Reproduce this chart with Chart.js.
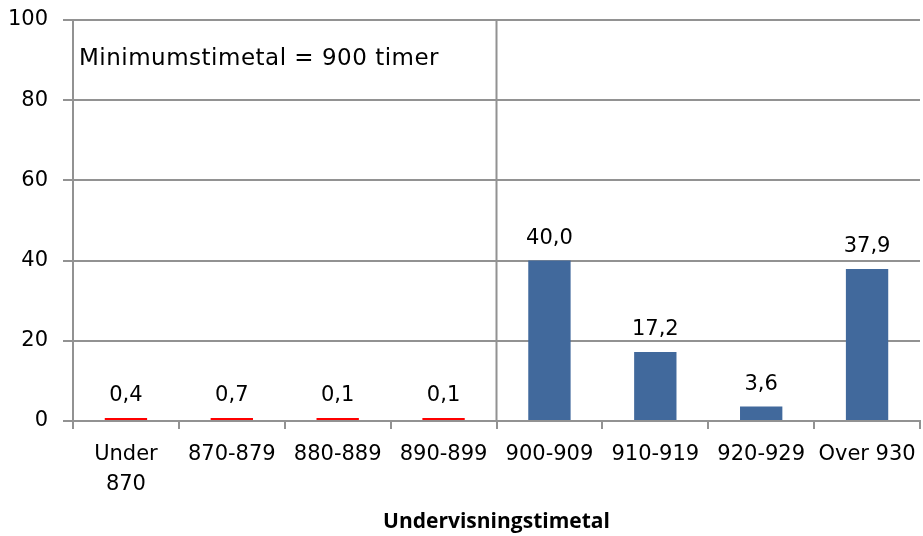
<!DOCTYPE html>
<html>
<head>
<meta charset="utf-8">
<script src="https://cdn.jsdelivr.net/npm/chart.js@4"></script>
<style>
  html, body { margin: 0; padding: 0; background: #fff; }
  #wrap { width: 923px; height: 536px; }
</style>
</head>
<body>
<div id="wrap"><canvas id="timetal"></canvas></div>
<script>
// Fordeling af skoler efter undervisningstimetal (pct.)
const kategorier = [['Under', '870'], '870-879', '880-889', '890-899', '900-909', '910-919', '920-929', 'Over 930'];
const andele = [0.4, 0.7, 0.1, 0.1, 40.0, 17.2, 3.6, 37.9];
const farver = ['#ff0000', '#ff0000', '#ff0000', '#ff0000', '#41699c', '#41699c', '#41699c', '#41699c'];
const yTicks = [0, 20, 40, 60, 80, 100];
const minimumTekst = 'Minimumstimetal = 900 timer';
const minimumIndeks = 4; // 900-909 er første kategori over minimum

const gitter = '#929292';
const skrift = "'DejaVu Sans', sans-serif";

// værdier over søjlerne, skillelinje ved 900 og tekstboks
const tegnEkstra = {
    id: 'tegnEkstra',
    afterDatasetsDraw(chart) {
        const ctx = chart.ctx;
        const area = chart.chartArea;
        const x = chart.scales.x;

        // lodret linje ved minimum
        const xLinje = (x.getPixelForValue(minimumIndeks - 1) + x.getPixelForValue(minimumIndeks)) / 2;
        ctx.save();
        ctx.strokeStyle = gitter;
        ctx.lineWidth = 2;
        ctx.beginPath();
        ctx.moveTo(xLinje, area.top);
        ctx.lineTo(xLinje, area.bottom);
        ctx.stroke();

        ctx.fillStyle = '#000';
        ctx.font = '23px ' + skrift;
        ctx.letterSpacing = '0.5px';
        ctx.textAlign = 'left';
        ctx.textBaseline = 'alphabetic';
        ctx.fillText(minimumTekst, area.left + 6, area.top + 45);

        // dataetiketter
        ctx.letterSpacing = '0px';
        ctx.font = '21px ' + skrift;
        ctx.textAlign = 'center';
        const meta = chart.getDatasetMeta(0);
        meta.data.forEach((bar, i) => {
            const tekst = andele[i].toFixed(1).replace('.', ',');
            ctx.fillText(tekst, bar.x, bar.y - 17);
        });
        ctx.restore();
    }
};

const data = {
    labels: kategorier,
    datasets: [{
        label: 'Andel',
        data: andele,
        backgroundColor: farver,
        borderWidth: 0,
        barPercentage: 0.4,
        categoryPercentage: 1.0,
        minBarLength: 3,
    }]
};

const config = {
    type: 'bar',
    data: data,
    options: {
        responsive: true,
        maintainAspectRatio: false,
        animation: false,
        layout: {
            padding: { top: 0, right: 3, left: 0, bottom: 1 }
        },
        plugins: {
            legend: { display: false },
            tooltip: { enabled: false },
        },
        scales: {
            x: {
                grid: {
                    offset: true,
                    drawOnChartArea: false,
                    drawTicks: true,
                    tickLength: 8,
                    color: gitter,
                    lineWidth: 2,
                },
                border: { color: gitter, width: 2 },
                ticks: {
                    color: '#000',
                    font: { family: skrift, size: 21, lineHeight: 1.4 },
                    padding: 11,
                    maxRotation: 0,
                    autoSkip: false,
                },
                title: {
                    display: true,
                    text: 'Undervisningstimetal',
                    color: '#000',
                    font: { family: "'Open Sans', sans-serif", size: 21, weight: 'bold' },
                    padding: { top: 10, bottom: 0 },
                },
                afterFit: (s) => {
                    s.height = 114;
                    s.paddingLeft = 0;
                    s.paddingRight = 0;
                },
            },
            y: {
                min: 0,
                max: 100,
                afterBuildTicks: (s) => { s.ticks = yTicks.map(v => ({ value: v })); },
                grid: {
                    color: gitter,
                    lineWidth: 2,
                    tickLength: 10,
                },
                border: { color: gitter, width: 2 },
                ticks: {
                    color: '#000',
                    font: { family: skrift, size: 21 },
                    padding: 15,
                },
                afterFit: (s) => {
                    s.width = 73;
                    s.paddingTop = 20;
                    s.paddingBottom = 0;
                },
            }
        }
    },
    plugins: [tegnEkstra],
};

const diagram = new Chart(document.getElementById('timetal'), config);
</script>
</body>
</html>
